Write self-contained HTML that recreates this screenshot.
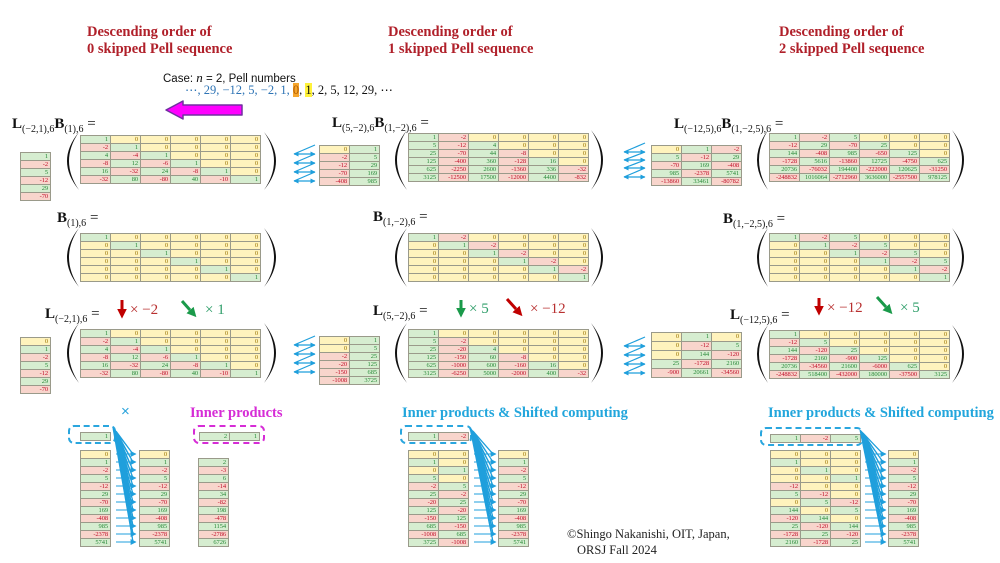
<!DOCTYPE html>
<html><head><meta charset="utf-8">
<style>
html,body{margin:0;padding:0;background:#fff;}
body{width:1000px;height:563px;position:relative;overflow:hidden;font-family:"Liberation Serif",serif;}
.t{position:absolute;font:bold 14.5px/17px "Liberation Serif",serif;color:#b0202a;white-space:nowrap;}
.ip{position:absolute;font:bold 14.5px/17px "Liberation Serif",serif;white-space:nowrap;}
.m{position:absolute;display:grid;grid-auto-rows:8px;border-top:1px solid #9a9a8a;border-left:1px solid #9a9a8a;}
.m i{font-style:normal;display:block;box-sizing:border-box;border-right:1px solid #9a9a8a;border-bottom:1px solid #9a9a8a;font:6.5px/7px "Liberation Serif",serif;text-align:right;padding-right:2px;letter-spacing:-0.1px;overflow:hidden;white-space:nowrap;}
.c1{grid-template-columns:30px}
.c2{grid-template-columns:repeat(2,30px)}
.c3{grid-template-columns:repeat(3,30px)}
.c6{grid-template-columns:repeat(6,30px)}
.g{background:#d6edd0;color:#2a8a3a}
.p{background:#f8d5cc;color:#c0102a}
.y{background:#fff3bd;color:#9a7400}
.lb{position:absolute;font:15px/15px "Liberation Serif",serif;color:#111;white-space:nowrap;}
.lb b{font-weight:bold}
.lb sub{font-size:10px;vertical-align:-4px;line-height:0}
.box{position:absolute;box-sizing:border-box;border-radius:6px;}
</style></head><body>

<div class="t" style="left:87px;top:24px">Descending order of<br>0 skipped Pell sequence</div>
<div class="t" style="left:388px;top:24px">Descending order of<br>1 skipped Pell sequence</div>
<div class="t" style="left:779px;top:24px">Descending order of<br>2 skipped Pell sequence</div>

<div style="position:absolute;left:163px;top:71px;font:11.5px/14px 'Liberation Sans',sans-serif;color:#111;white-space:nowrap">Case: <span style="font-family:'Liberation Serif',serif;font-style:italic;font-size:13px">n</span> = 2, Pell numbers</div>
<div style="position:absolute;left:185px;top:83px;font:12.5px/14px 'Liberation Serif',serif;white-space:nowrap;color:#111"><span style="color:#2e74b5">⋯, 29, −12, 5, −2, 1,</span> <span style="background:#f5a52c;color:#b05a00">0</span>, <span style="background:#fff23a">1</span>, 2, 5, 12, 29, ⋯</div>

<!-- Labels -->
<div class="lb" style="left:12px;top:117px"><b>L</b><sub>(−2,1),6</sub><b>B</b><sub>(1),6</sub> =</div>
<div class="lb" style="left:57px;top:211px"><b>B</b><sub>(1),6</sub> =</div>
<div class="lb" style="left:45px;top:307px"><b>L</b><sub>(−2,1),6</sub> =</div>
<div class="lb" style="left:332px;top:116px"><b>L</b><sub>(5,−2),6</sub><b>B</b><sub>(1,−2),6</sub> =</div>
<div class="lb" style="left:373px;top:210px"><b>B</b><sub>(1,−2),6</sub> =</div>
<div class="lb" style="left:373px;top:304px"><b>L</b><sub>(5,−2),6</sub> =</div>
<div class="lb" style="left:674px;top:117px"><b>L</b><sub>(−12,5),6</sub><b>B</b><sub>(1,−2,5),6</sub> =</div>
<div class="lb" style="left:723px;top:212px"><b>B</b><sub>(1,−2,5),6</sub> =</div>
<div class="lb" style="left:730px;top:308px"><b>L</b><sub>(−12,5),6</sub> =</div>

<!-- multipliers -->
<div style="position:absolute;left:130px;top:302px;font:15px/16px 'Liberation Serif',serif;color:#b83030;white-space:nowrap">× −2</div>
<div style="position:absolute;left:205px;top:302px;font:15px/16px 'Liberation Serif',serif;color:#2f9e6a;white-space:nowrap">× 1</div>
<div style="position:absolute;left:469px;top:301px;font:15px/16px 'Liberation Serif',serif;color:#2f9e6a;white-space:nowrap">× 5</div>
<div style="position:absolute;left:530px;top:301px;font:15px/16px 'Liberation Serif',serif;color:#b83030;white-space:nowrap">× −12</div>
<div style="position:absolute;left:827px;top:300px;font:15px/16px 'Liberation Serif',serif;color:#b83030;white-space:nowrap">× −12</div>
<div style="position:absolute;left:900px;top:300px;font:15px/16px 'Liberation Serif',serif;color:#2f9e6a;white-space:nowrap">× 5</div>

<!-- Section 1 -->
<div class="m c1" style="left:20px;top:152px">
<i class=g>1</i><i class=p>-2</i><i class=g>5</i><i class=p>-12</i><i class=g>29</i><i class=p>-70</i>
</div>
<div class="m c6" style="left:80px;top:135px">
<i class=g>1</i><i class=y>0</i><i class=y>0</i><i class=y>0</i><i class=y>0</i><i class=y>0</i>
<i class=p>-2</i><i class=g>1</i><i class=y>0</i><i class=y>0</i><i class=y>0</i><i class=y>0</i>
<i class=g>4</i><i class=p>-4</i><i class=g>1</i><i class=y>0</i><i class=y>0</i><i class=y>0</i>
<i class=p>-8</i><i class=g>12</i><i class=p>-6</i><i class=g>1</i><i class=y>0</i><i class=y>0</i>
<i class=g>16</i><i class=p>-32</i><i class=g>24</i><i class=p>-8</i><i class=g>1</i><i class=y>0</i>
<i class=p>-32</i><i class=g>80</i><i class=p>-80</i><i class=g>40</i><i class=p>-10</i><i class=g>1</i>
</div>
<div class="m c6" style="left:80px;top:233px">
<i class=g>1</i><i class=y>0</i><i class=y>0</i><i class=y>0</i><i class=y>0</i><i class=y>0</i>
<i class=y>0</i><i class=g>1</i><i class=y>0</i><i class=y>0</i><i class=y>0</i><i class=y>0</i>
<i class=y>0</i><i class=y>0</i><i class=g>1</i><i class=y>0</i><i class=y>0</i><i class=y>0</i>
<i class=y>0</i><i class=y>0</i><i class=y>0</i><i class=g>1</i><i class=y>0</i><i class=y>0</i>
<i class=y>0</i><i class=y>0</i><i class=y>0</i><i class=y>0</i><i class=g>1</i><i class=y>0</i>
<i class=y>0</i><i class=y>0</i><i class=y>0</i><i class=y>0</i><i class=y>0</i><i class=g>1</i>
</div>
<div class="m c6" style="left:80px;top:329px">
<i class=g>1</i><i class=y>0</i><i class=y>0</i><i class=y>0</i><i class=y>0</i><i class=y>0</i>
<i class=p>-2</i><i class=g>1</i><i class=y>0</i><i class=y>0</i><i class=y>0</i><i class=y>0</i>
<i class=g>4</i><i class=p>-4</i><i class=g>1</i><i class=y>0</i><i class=y>0</i><i class=y>0</i>
<i class=p>-8</i><i class=g>12</i><i class=p>-6</i><i class=g>1</i><i class=y>0</i><i class=y>0</i>
<i class=g>16</i><i class=p>-32</i><i class=g>24</i><i class=p>-8</i><i class=g>1</i><i class=y>0</i>
<i class=p>-32</i><i class=g>80</i><i class=p>-80</i><i class=g>40</i><i class=p>-10</i><i class=g>1</i>
</div>
<div class="m c1" style="left:20px;top:337px">
<i class=y>0</i><i class=g>1</i><i class=p>-2</i><i class=g>5</i><i class=p>-12</i><i class=g>29</i><i class=p>-70</i>
</div>

<!-- Section 2 -->
<div class="m c2" style="left:319px;top:145px">
<i class=y>0</i><i class=g>1</i>
<i class=p>-2</i><i class=g>5</i>
<i class=p>-12</i><i class=g>29</i>
<i class=p>-70</i><i class=g>169</i>
<i class=p>-408</i><i class=g>985</i>
</div>
<div class="m c6" style="left:408px;top:133px">
<i class=g>1</i><i class=p>-2</i><i class=y>0</i><i class=y>0</i><i class=y>0</i><i class=y>0</i>
<i class=g>5</i><i class=p>-12</i><i class=g>4</i><i class=y>0</i><i class=y>0</i><i class=y>0</i>
<i class=g>25</i><i class=p>-70</i><i class=g>44</i><i class=p>-8</i><i class=y>0</i><i class=y>0</i>
<i class=g>125</i><i class=p>-400</i><i class=g>360</i><i class=p>-128</i><i class=g>16</i><i class=y>0</i>
<i class=g>625</i><i class=p>-2250</i><i class=g>2600</i><i class=p>-1360</i><i class=g>336</i><i class=p>-32</i>
<i class=g>3125</i><i class=p>-12500</i><i class=g>17500</i><i class=p>-12000</i><i class=g>4400</i><i class=p>-832</i>
</div>
<div class="m c6" style="left:408px;top:233px">
<i class=g>1</i><i class=p>-2</i><i class=y>0</i><i class=y>0</i><i class=y>0</i><i class=y>0</i>
<i class=y>0</i><i class=g>1</i><i class=p>-2</i><i class=y>0</i><i class=y>0</i><i class=y>0</i>
<i class=y>0</i><i class=y>0</i><i class=g>1</i><i class=p>-2</i><i class=y>0</i><i class=y>0</i>
<i class=y>0</i><i class=y>0</i><i class=y>0</i><i class=g>1</i><i class=p>-2</i><i class=y>0</i>
<i class=y>0</i><i class=y>0</i><i class=y>0</i><i class=y>0</i><i class=g>1</i><i class=p>-2</i>
<i class=y>0</i><i class=y>0</i><i class=y>0</i><i class=y>0</i><i class=y>0</i><i class=g>1</i>
</div>
<div class="m c6" style="left:408px;top:329px">
<i class=g>1</i><i class=y>0</i><i class=y>0</i><i class=y>0</i><i class=y>0</i><i class=y>0</i>
<i class=g>5</i><i class=p>-2</i><i class=y>0</i><i class=y>0</i><i class=y>0</i><i class=y>0</i>
<i class=g>25</i><i class=p>-20</i><i class=g>4</i><i class=y>0</i><i class=y>0</i><i class=y>0</i>
<i class=g>125</i><i class=p>-150</i><i class=g>60</i><i class=p>-8</i><i class=y>0</i><i class=y>0</i>
<i class=g>625</i><i class=p>-1000</i><i class=g>600</i><i class=p>-160</i><i class=g>16</i><i class=y>0</i>
<i class=g>3125</i><i class=p>-6250</i><i class=g>5000</i><i class=p>-2000</i><i class=g>400</i><i class=p>-32</i>
</div>
<div class="m c2" style="left:319px;top:336px">
<i class=y>0</i><i class=g>1</i>
<i class=y>0</i><i class=g>5</i>
<i class=p>-2</i><i class=g>25</i>
<i class=p>-20</i><i class=g>125</i>
<i class=p>-150</i><i class=g>685</i>
<i class=p>-1008</i><i class=g>3725</i>
</div>

<!-- Section 3 -->
<div class="m c3" style="left:651px;top:145px">
<i class=y>0</i><i class=g>1</i><i class=p>-2</i>
<i class=g>5</i><i class=p>-12</i><i class=g>29</i>
<i class=p>-70</i><i class=g>169</i><i class=p>-408</i>
<i class=g>985</i><i class=p>-2378</i><i class=g>5741</i>
<i class=p>-13860</i><i class=g>33461</i><i class=p>-80782</i>
</div>
<div class="m c6" style="left:769px;top:133px">
<i class=g>1</i><i class=p>-2</i><i class=g>5</i><i class=y>0</i><i class=y>0</i><i class=y>0</i>
<i class=p>-12</i><i class=g>29</i><i class=p>-70</i><i class=g>25</i><i class=y>0</i><i class=y>0</i>
<i class=g>144</i><i class=p>-408</i><i class=g>985</i><i class=p>-650</i><i class=g>125</i><i class=y>0</i>
<i class=p>-1728</i><i class=g>5616</i><i class=p>-13860</i><i class=g>12725</i><i class=p>-4750</i><i class=g>625</i>
<i class=g>20736</i><i class=p>-76032</i><i class=g>194400</i><i class=p>-222000</i><i class=g>120625</i><i class=p>-31250</i>
<i class=p>-248832</i><i class=g>1016064</i><i class=p>-2712960</i><i class=g>3636000</i><i class=p>-2557500</i><i class=g>978125</i>
</div>
<div class="m c6" style="left:769px;top:233px">
<i class=g>1</i><i class=p>-2</i><i class=g>5</i><i class=y>0</i><i class=y>0</i><i class=y>0</i>
<i class=y>0</i><i class=g>1</i><i class=p>-2</i><i class=g>5</i><i class=y>0</i><i class=y>0</i>
<i class=y>0</i><i class=y>0</i><i class=g>1</i><i class=p>-2</i><i class=g>5</i><i class=y>0</i>
<i class=y>0</i><i class=y>0</i><i class=y>0</i><i class=g>1</i><i class=p>-2</i><i class=g>5</i>
<i class=y>0</i><i class=y>0</i><i class=y>0</i><i class=y>0</i><i class=g>1</i><i class=p>-2</i>
<i class=y>0</i><i class=y>0</i><i class=y>0</i><i class=y>0</i><i class=y>0</i><i class=g>1</i>
</div>
<div class="m c6" style="left:769px;top:330px">
<i class=g>1</i><i class=y>0</i><i class=y>0</i><i class=y>0</i><i class=y>0</i><i class=y>0</i>
<i class=p>-12</i><i class=g>5</i><i class=y>0</i><i class=y>0</i><i class=y>0</i><i class=y>0</i>
<i class=g>144</i><i class=p>-120</i><i class=g>25</i><i class=y>0</i><i class=y>0</i><i class=y>0</i>
<i class=p>-1728</i><i class=g>2160</i><i class=p>-900</i><i class=g>125</i><i class=y>0</i><i class=y>0</i>
<i class=g>20736</i><i class=p>-34560</i><i class=g>21600</i><i class=p>-6000</i><i class=g>625</i><i class=y>0</i>
<i class=p>-248832</i><i class=g>518400</i><i class=p>-432000</i><i class=g>180000</i><i class=p>-37500</i><i class=g>3125</i>
</div>
<div class="m c3" style="left:651px;top:332px;grid-auto-rows:9px">
<i class=y>0</i><i class=g>1</i><i class=y>0</i>
<i class=y>0</i><i class=p>-12</i><i class=g>5</i>
<i class=y>0</i><i class=g>144</i><i class=p>-120</i>
<i class=g>25</i><i class=p>-1728</i><i class=g>2160</i>
<i class=p>-900</i><i class=g>20661</i><i class=p>-34560</i>
</div>

<!-- Bottom section -->
<div style="position:absolute;left:121px;top:404px;font:15px/16px 'Liberation Sans',sans-serif;color:#29a3dc">×</div>
<div class="ip" style="left:190px;top:405px;color:#d62cd6">Inner products</div>
<div class="ip" style="left:402px;top:405px;color:#22a6dc">Inner products &amp; Shifted computing</div>
<div class="ip" style="left:768px;top:405px;color:#22a6dc">Inner products &amp; Shifted computing</div>

<div class="box" style="left:68px;top:425px;width:48px;height:19px;border:2px dashed #2aa6de"></div>
<div class="m c1" style="left:80px;top:432px"><i class=g>1</i></div>
<div class="m c1" style="left:80px;top:450px">
<i class=y>0</i><i class=g>1</i><i class=p>-2</i><i class=g>5</i><i class=p>-12</i><i class=g>29</i><i class=p>-70</i><i class=g>169</i><i class=p>-408</i><i class=g>985</i><i class=p>-2378</i><i class=g>5741</i>
</div>
<div class="m c1" style="left:139px;top:450px">
<i class=y>0</i><i class=g>1</i><i class=p>-2</i><i class=g>5</i><i class=p>-12</i><i class=g>29</i><i class=p>-70</i><i class=g>169</i><i class=p>-408</i><i class=g>985</i><i class=p>-2378</i><i class=g>5741</i>
</div>

<div class="box" style="left:193px;top:425px;width:72px;height:19px;border:2px dashed #d62cd6"></div>
<div class="m c2" style="left:199px;top:432px"><i class=g>2</i><i class=g>1</i></div>
<div class="m c1" style="left:198px;top:458px">
<i class=g>2</i><i class=p>-3</i><i class=g>6</i><i class=p>-14</i><i class=g>34</i><i class=p>-82</i><i class=g>198</i><i class=p>-478</i><i class=g>1154</i><i class=p>-2786</i><i class=g>6726</i>
</div>

<div class="box" style="left:400px;top:425px;width:72px;height:19px;border:2px dashed #2aa6de"></div>
<div class="m c2" style="left:408px;top:432px"><i class=g>1</i><i class=p>-2</i></div>
<div class="m c2" style="left:408px;top:450px">
<i class=y>0</i><i class=y>0</i>
<i class=g>1</i><i class=y>0</i>
<i class=y>0</i><i class=g>1</i>
<i class=g>5</i><i class=y>0</i>
<i class=p>-2</i><i class=g>5</i>
<i class=g>25</i><i class=p>-2</i>
<i class=p>-20</i><i class=g>25</i>
<i class=g>125</i><i class=p>-20</i>
<i class=p>-150</i><i class=g>125</i>
<i class=g>685</i><i class=p>-150</i>
<i class=p>-1008</i><i class=g>685</i>
<i class=g>3725</i><i class=p>-1008</i>
</div>
<div class="m c1" style="left:498px;top:450px">
<i class=y>0</i><i class=g>1</i><i class=p>-2</i><i class=g>5</i><i class=p>-12</i><i class=g>29</i><i class=p>-70</i><i class=g>169</i><i class=p>-408</i><i class=g>985</i><i class=p>-2378</i><i class=g>5741</i>
</div>

<div class="box" style="left:760px;top:427px;width:103px;height:19px;border:2px dashed #2aa6de"></div>
<div class="m c3" style="left:770px;top:434px"><i class=g>1</i><i class=p>-2</i><i class=g>5</i></div>
<div class="m c3" style="left:770px;top:450px">
<i class=y>0</i><i class=y>0</i><i class=y>0</i>
<i class=g>1</i><i class=y>0</i><i class=y>0</i>
<i class=y>0</i><i class=g>1</i><i class=y>0</i>
<i class=y>0</i><i class=y>0</i><i class=g>1</i>
<i class=p>-12</i><i class=y>0</i><i class=y>0</i>
<i class=g>5</i><i class=p>-12</i><i class=y>0</i>
<i class=y>0</i><i class=g>5</i><i class=p>-12</i>
<i class=g>144</i><i class=y>0</i><i class=g>5</i>
<i class=p>-120</i><i class=g>144</i><i class=y>0</i>
<i class=g>25</i><i class=p>-120</i><i class=g>144</i>
<i class=p>-1728</i><i class=g>25</i><i class=p>-120</i>
<i class=g>2160</i><i class=p>-1728</i><i class=g>25</i>
</div>
<div class="m c1" style="left:888px;top:450px">
<i class=y>0</i><i class=g>1</i><i class=p>-2</i><i class=g>5</i><i class=p>-12</i><i class=g>29</i><i class=p>-70</i><i class=g>169</i><i class=p>-408</i><i class=g>985</i><i class=p>-2378</i><i class=g>5741</i>
</div>

<div style="position:absolute;left:567px;top:526px;font:12.5px/16px 'Liberation Serif',serif;color:#222;white-space:nowrap">©Shingo Nakanishi, OIT, Japan,<br><span style="padding-left:10px">ORSJ Fall 2024</span></div>

<svg width="1000" height="563" style="position:absolute;left:0;top:0" xmlns="http://www.w3.org/2000/svg">
<defs>
<marker id="ab" viewBox="0 0 10 10" refX="9" refY="5" markerWidth="5" markerHeight="5" markerUnits="userSpaceOnUse" orient="auto-start-reverse"><path d="M0,0L10,5L0,10z" fill="#1f9fdc"/></marker>
<marker id="af" viewBox="0 0 10 10" refX="9" refY="5" markerWidth="6" markerHeight="6" markerUnits="userSpaceOnUse" orient="auto"><path d="M0,0L10,5L0,10z" fill="#1f9fdc"/></marker>
<marker id="hr" viewBox="0 0 10 10" refX="0" refY="5" markerWidth="3.2" markerHeight="3.2" orient="auto"><path d="M0,0L10,5L0,10z" fill="#c00000"/></marker>
<marker id="hg" viewBox="0 0 10 10" refX="0" refY="5" markerWidth="3.2" markerHeight="3.2" orient="auto"><path d="M0,0L10,5L0,10z" fill="#1a9a4a"/></marker>
</defs>
<!-- parentheses -->
<g fill="#111">
<path d="M79,132 Q55,161 79,190 Q59,161 79,132Z"/>
<path d="M79,228 Q55,257.5 79,287 Q59,257.5 79,228Z"/>
<path d="M79,323 Q55,353 79,383 Q59,353 79,323Z"/>
<path d="M264,132 Q288,161 264,190 Q284,161 264,132Z"/>
<path d="M264,228 Q288,257.5 264,287 Q284,257.5 264,228Z"/>
<path d="M264,323 Q288,353 264,383 Q284,353 264,323Z"/>
<path d="M407,130 Q383,160 407,190 Q387,160 407,130Z"/>
<path d="M407,228 Q383,257.5 407,287 Q387,257.5 407,228Z"/>
<path d="M407,323 Q383,353 407,383 Q387,353 407,323Z"/>
<path d="M591,130 Q615,160 591,190 Q611,160 591,130Z"/>
<path d="M591,228 Q615,257.5 591,287 Q611,257.5 591,228Z"/>
<path d="M591,323 Q615,353 591,383 Q611,353 591,323Z"/>
<path d="M768,130 Q746,160 768,190 Q750,160 768,130Z"/>
<path d="M768,228 Q746,257.5 768,287 Q750,257.5 768,228Z"/>
<path d="M768,325 Q746,354 768,383 Q750,354 768,325Z"/>
<path d="M952,130 Q976,160 952,190 Q972,160 952,130Z"/>
<path d="M952,228 Q976,257.5 952,287 Q972,257.5 952,228Z"/>
<path d="M952,325 Q976,354 952,383 Q972,354 952,325Z"/>
</g>
<!-- magenta arrow -->
<path d="M166,110 L183,101 L183,105 L242,105 L242,115 L183,115 L183,119 Z" fill="#ff00ff" stroke="#7030a0" stroke-width="1.5" stroke-linejoin="round"/>
<!-- zigzag arrows -->
<g stroke="#1f9fdc" stroke-width="1.2" fill="none">
<line x1="315" y1="145" x2="294" y2="154"/><line x1="294" y1="154" x2="315" y2="154" marker-start="url(#ab)" marker-end="url(#ab)"/>
<line x1="315" y1="154" x2="294" y2="163"/><line x1="294" y1="163" x2="315" y2="163" marker-start="url(#ab)" marker-end="url(#ab)"/>
<line x1="315" y1="163" x2="294" y2="172"/><line x1="294" y1="172" x2="315" y2="172" marker-start="url(#ab)" marker-end="url(#ab)"/>
<line x1="315" y1="172" x2="294" y2="181"/><line x1="294" y1="181" x2="315" y2="181" marker-start="url(#ab)" marker-end="url(#ab)"/>

<line x1="645" y1="143" x2="624" y2="152"/><line x1="624" y1="152" x2="645" y2="152" marker-start="url(#ab)" marker-end="url(#ab)"/>
<line x1="645" y1="152" x2="624" y2="160"/><line x1="624" y1="160" x2="645" y2="160" marker-start="url(#ab)" marker-end="url(#ab)"/>
<line x1="645" y1="160" x2="624" y2="168"/><line x1="624" y1="168" x2="645" y2="168" marker-start="url(#ab)" marker-end="url(#ab)"/>
<line x1="645" y1="168" x2="624" y2="177"/><line x1="624" y1="177" x2="645" y2="177" marker-start="url(#ab)" marker-end="url(#ab)"/>

<line x1="315" y1="336" x2="294" y2="345"/><line x1="294" y1="345" x2="315" y2="345" marker-start="url(#ab)" marker-end="url(#ab)"/>
<line x1="315" y1="345" x2="294" y2="354"/><line x1="294" y1="354" x2="315" y2="354" marker-start="url(#ab)" marker-end="url(#ab)"/>
<line x1="315" y1="354" x2="294" y2="363"/><line x1="294" y1="363" x2="315" y2="363" marker-start="url(#ab)" marker-end="url(#ab)"/>
<line x1="315" y1="363" x2="294" y2="372"/><line x1="294" y1="372" x2="315" y2="372" marker-start="url(#ab)" marker-end="url(#ab)"/>

<line x1="645" y1="337" x2="624" y2="346"/><line x1="624" y1="346" x2="645" y2="346" marker-start="url(#ab)" marker-end="url(#ab)"/>
<line x1="645" y1="346" x2="624" y2="355"/><line x1="624" y1="355" x2="645" y2="355" marker-start="url(#ab)" marker-end="url(#ab)"/>
<line x1="645" y1="355" x2="624" y2="364"/><line x1="624" y1="364" x2="645" y2="364" marker-start="url(#ab)" marker-end="url(#ab)"/>
<line x1="645" y1="364" x2="624" y2="373"/><line x1="624" y1="373" x2="645" y2="373" marker-start="url(#ab)" marker-end="url(#ab)"/>
</g>
<!-- red/green arrows -->
<g stroke-width="3" fill="none">
<line x1="122" y1="300" x2="122" y2="309" stroke="#c00000" marker-end="url(#hr)"/>
<line x1="182" y1="301" x2="190" y2="310" stroke="#1a9a4a" marker-end="url(#hg)"/>
<line x1="461" y1="300" x2="461" y2="308" stroke="#1a9a4a" marker-end="url(#hg)"/>
<line x1="507" y1="299" x2="516" y2="309" stroke="#c00000" marker-end="url(#hr)"/>
<line x1="819" y1="298" x2="819" y2="306" stroke="#c00000" marker-end="url(#hr)"/>
<line x1="877" y1="297" x2="886" y2="307" stroke="#1a9a4a" marker-end="url(#hg)"/>
</g>
<!-- fans -->
<g stroke="#1f9fdc" stroke-width="1.1" fill="none">
<!-- F1 -->
<path d="M113,428L133,454M113,428L133,462M113,428L133,470M113,428L133,478M113,428L133,486M113,428L133,494M113,428L133,502M113,428L133,510M113,428L133,518M113,428L133,526M113,428L133,534M113,428L133,542"/>
<path d="M116,431L133,454M116,431L133,462M116,431L133,470M116,431L133,478M116,431L133,486M116,431L133,494M116,431L133,502M116,431L133,510M116,431L133,518M116,431L133,526M116,431L133,534M116,431L133,542"/>
<line x1="116" y1="454" x2="136" y2="454" marker-end="url(#af)"/><line x1="116" y1="462" x2="136" y2="462" marker-end="url(#af)"/><line x1="116" y1="470" x2="136" y2="470" marker-end="url(#af)"/><line x1="116" y1="478" x2="136" y2="478" marker-end="url(#af)"/><line x1="116" y1="486" x2="136" y2="486" marker-end="url(#af)"/><line x1="116" y1="494" x2="136" y2="494" marker-end="url(#af)"/><line x1="116" y1="502" x2="136" y2="502" marker-end="url(#af)"/><line x1="116" y1="510" x2="136" y2="510" marker-end="url(#af)"/><line x1="116" y1="518" x2="136" y2="518" marker-end="url(#af)"/><line x1="116" y1="526" x2="136" y2="526" marker-end="url(#af)"/><line x1="116" y1="534" x2="136" y2="534" marker-end="url(#af)"/><line x1="116" y1="542" x2="136" y2="542" marker-end="url(#af)"/>
<!-- F2 -->
<path d="M470,428L493,454M470,428L493,462M470,428L493,470M470,428L493,478M470,428L493,486M470,428L493,494M470,428L493,502M470,428L493,510M470,428L493,518M470,428L493,526M470,428L493,534M470,428L493,542"/>
<path d="M473,431L493,454M473,431L493,462M473,431L493,470M473,431L493,478M473,431L493,486M473,431L493,494M473,431L493,502M473,431L493,510M473,431L493,518M473,431L493,526M473,431L493,534M473,431L493,542"/>
<line x1="474" y1="454" x2="496" y2="454" marker-end="url(#af)"/><line x1="474" y1="462" x2="496" y2="462" marker-end="url(#af)"/><line x1="474" y1="470" x2="496" y2="470" marker-end="url(#af)"/><line x1="474" y1="478" x2="496" y2="478" marker-end="url(#af)"/><line x1="474" y1="486" x2="496" y2="486" marker-end="url(#af)"/><line x1="474" y1="494" x2="496" y2="494" marker-end="url(#af)"/><line x1="474" y1="502" x2="496" y2="502" marker-end="url(#af)"/><line x1="474" y1="510" x2="496" y2="510" marker-end="url(#af)"/><line x1="474" y1="518" x2="496" y2="518" marker-end="url(#af)"/><line x1="474" y1="526" x2="496" y2="526" marker-end="url(#af)"/><line x1="474" y1="534" x2="496" y2="534" marker-end="url(#af)"/><line x1="474" y1="542" x2="496" y2="542" marker-end="url(#af)"/>
<!-- F3 -->
<path d="M860,430L883,454M860,430L883,462M860,430L883,470M860,430L883,478M860,430L883,486M860,430L883,494M860,430L883,502M860,430L883,510M860,430L883,518M860,430L883,526M860,430L883,534M860,430L883,542"/>
<path d="M863,433L883,454M863,433L883,462M863,433L883,470M863,433L883,478M863,433L883,486M863,433L883,494M863,433L883,502M863,433L883,510M863,433L883,518M863,433L883,526M863,433L883,534M863,433L883,542"/>
<line x1="865" y1="454" x2="886" y2="454" marker-end="url(#af)"/><line x1="865" y1="462" x2="886" y2="462" marker-end="url(#af)"/><line x1="865" y1="470" x2="886" y2="470" marker-end="url(#af)"/><line x1="865" y1="478" x2="886" y2="478" marker-end="url(#af)"/><line x1="865" y1="486" x2="886" y2="486" marker-end="url(#af)"/><line x1="865" y1="494" x2="886" y2="494" marker-end="url(#af)"/><line x1="865" y1="502" x2="886" y2="502" marker-end="url(#af)"/><line x1="865" y1="510" x2="886" y2="510" marker-end="url(#af)"/><line x1="865" y1="518" x2="886" y2="518" marker-end="url(#af)"/><line x1="865" y1="526" x2="886" y2="526" marker-end="url(#af)"/><line x1="865" y1="534" x2="886" y2="534" marker-end="url(#af)"/><line x1="865" y1="542" x2="886" y2="542" marker-end="url(#af)"/>
</g>
</svg>
</body></html>
